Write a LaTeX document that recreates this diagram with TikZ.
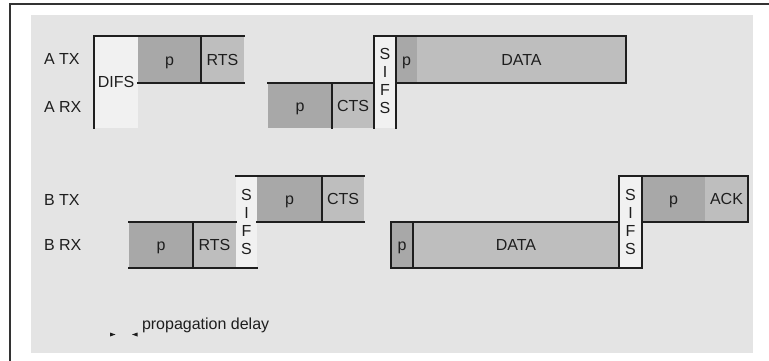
\documentclass[tikz,border=0pt]{standalone}
\usepackage{fontspec}
\setmainfont{Liberation Sans}
\definecolor{bgg}{HTML}{E4E4E4}
\definecolor{dkp}{HTML}{A8A8A8}
\definecolor{ltp}{HTML}{BEBEBE}
\definecolor{wht}{HTML}{F1F1F1}
\definecolor{ink}{HTML}{1E1E1E}
\definecolor{frm}{HTML}{333333}
\begin{document}
\begin{tikzpicture}[x=1pt,y=-1pt,
  seg/.style={anchor=north west, inner sep=0pt, outer sep=0pt, draw=none,
    text height=11.5pt, text depth=0pt, text=ink,
    font=\fontsize{16}{18}\selectfont},
  lbl/.style={inner sep=0pt, outer sep=0pt, text=ink, font=\fontsize{16}{18}\selectfont},
  sifs/.style={lbl, align=center},
  edge/.style={draw=ink, line width=1.1pt, line cap=rect}
]
\useasboundingbox (0,0) rectangle (769,361);
\fill[white] (0,0) rectangle (769,361);
\coordinate (fa) at (10,361);
\coordinate (fb) at (10,4);
\coordinate (fc) at (769,4);
\draw[frm, line width=1.5pt] (fa) -- (fb) -- (fc);
\fill[bgg] (31,15) rectangle (753,353);

% row labels
\node[lbl, anchor=base west] (latx) at (44,65) {A TX};
\node[lbl, anchor=base west] (larx) at (44,113) {A RX};
\node[lbl, anchor=base west] (lbtx) at (44,205) {B TX};
\node[lbl, anchor=base west] (lbrx) at (44,250) {B RX};

% ---- A ----
\node[seg, fill=wht, minimum width=44pt, minimum height=92pt] (difsw) at (94,36) {};
\node[seg, fill=dkp, minimum width=63pt, minimum height=47pt] (atxp) at (138,36) {p};
\node[seg, fill=ltp, minimum width=43pt, minimum height=47pt] (atxrts) at (201,36) {RTS};
\node[lbl, anchor=base] (difs) at (116,88) {DIFS};
\draw[edge] (difsw.south west) -- (difsw.north west) -- (atxrts.north east);
\draw[edge] (atxp.south west) -- (atxrts.south east);
\draw[edge] (atxp.north east) -- (atxp.south east);

\node[seg, fill=dkp, minimum width=64pt, minimum height=45pt] (arxp) at (268,83) {p};
\node[seg, fill=ltp, minimum width=42pt, minimum height=45pt] (arxcts) at (332,83) {CTS};
\node[seg, fill=wht, minimum width=22pt, minimum height=92pt] (asifs) at (374,36) {};
\node[sifs] (asifst) at ([yshift=1pt]asifs.center) {S\\I\\F\\S};
\node[seg, fill=dkp, minimum width=21pt, minimum height=47pt] (adp) at (396,36) {p};
\node[seg, fill=ltp, minimum width=209pt, minimum height=47pt] (adata) at (417,36) {DATA};
\draw[edge] (arxp.north west) -- (arxcts.north east);
\draw[edge] (arxp.north east) -- (arxp.south east);
\draw[edge] (asifs.south west) -- (asifs.north west) -- (adata.north east) -- (adata.south east) -- (adp.south west);
\draw[edge] (asifs.north east) -- (asifs.south east);

% ---- B ----
\node[seg, fill=dkp, minimum width=64pt, minimum height=46pt] (brxp) at (129,222) {p};
\node[seg, fill=ltp, minimum width=43pt, minimum height=46pt] (brxrts) at (193,222) {RTS};
\node[seg, fill=wht, minimum width=21pt, minimum height=92pt] (bsifa) at (236,176) {};
\node[sifs] (bsifat) at (bsifa.center) {S\\I\\F\\S};
\node[seg, fill=dkp, minimum width=65pt, minimum height=46pt] (btxp) at (257,176) {p};
\node[seg, fill=ltp, minimum width=42pt, minimum height=46pt] (btxcts) at (322,176) {CTS};
\draw[edge] (brxp.north west) -- (brxrts.north east);
\draw[edge] (brxp.north east) -- (brxp.south east);
\draw[edge] (brxp.south west) -- (bsifa.south east);
\draw[edge] (bsifa.north west) -- (btxcts.north east);
\draw[edge] (btxp.south west) -- (btxcts.south east);
\draw[edge] (btxp.north east) -- (btxp.south east);

\node[seg, fill=dkp, minimum width=22pt, minimum height=46pt] (bdp) at (391,222) {p};
\node[seg, fill=ltp, minimum width=206pt, minimum height=46pt] (bdata) at (413,222) {DATA};
\node[seg, fill=wht, minimum width=23pt, minimum height=92pt] (bsifb) at (619,176) {};
\node[sifs] (bsifbt) at (bsifb.center) {S\\I\\F\\S};
\node[seg, fill=dkp, minimum width=63pt, minimum height=46pt] (backp) at (642,176) {p};
\node[seg, fill=ltp, minimum width=43pt, minimum height=46pt] (back) at (705,176) {ACK};
\draw[edge] (bdp.north west) rectangle (bdata.south east);
\draw[edge] (bdp.north east) -- (bdp.south east);
\draw[edge] (bsifb.north west) rectangle (bsifb.south east);
\draw[edge] (backp.north west) -- (back.north east) -- (back.south east) -- (backp.south west);

% propagation delay
\fill[ink] (110,332.5) -- (115.5,334.5) -- (110,336.5) -- cycle;
\fill[ink] (137.5,332.5) -- (132,334.5) -- (137.5,336.5) -- cycle;
\node[lbl, anchor=base west] (pdel) at (142,329) {propagation delay};
\end{tikzpicture}
\end{document}
